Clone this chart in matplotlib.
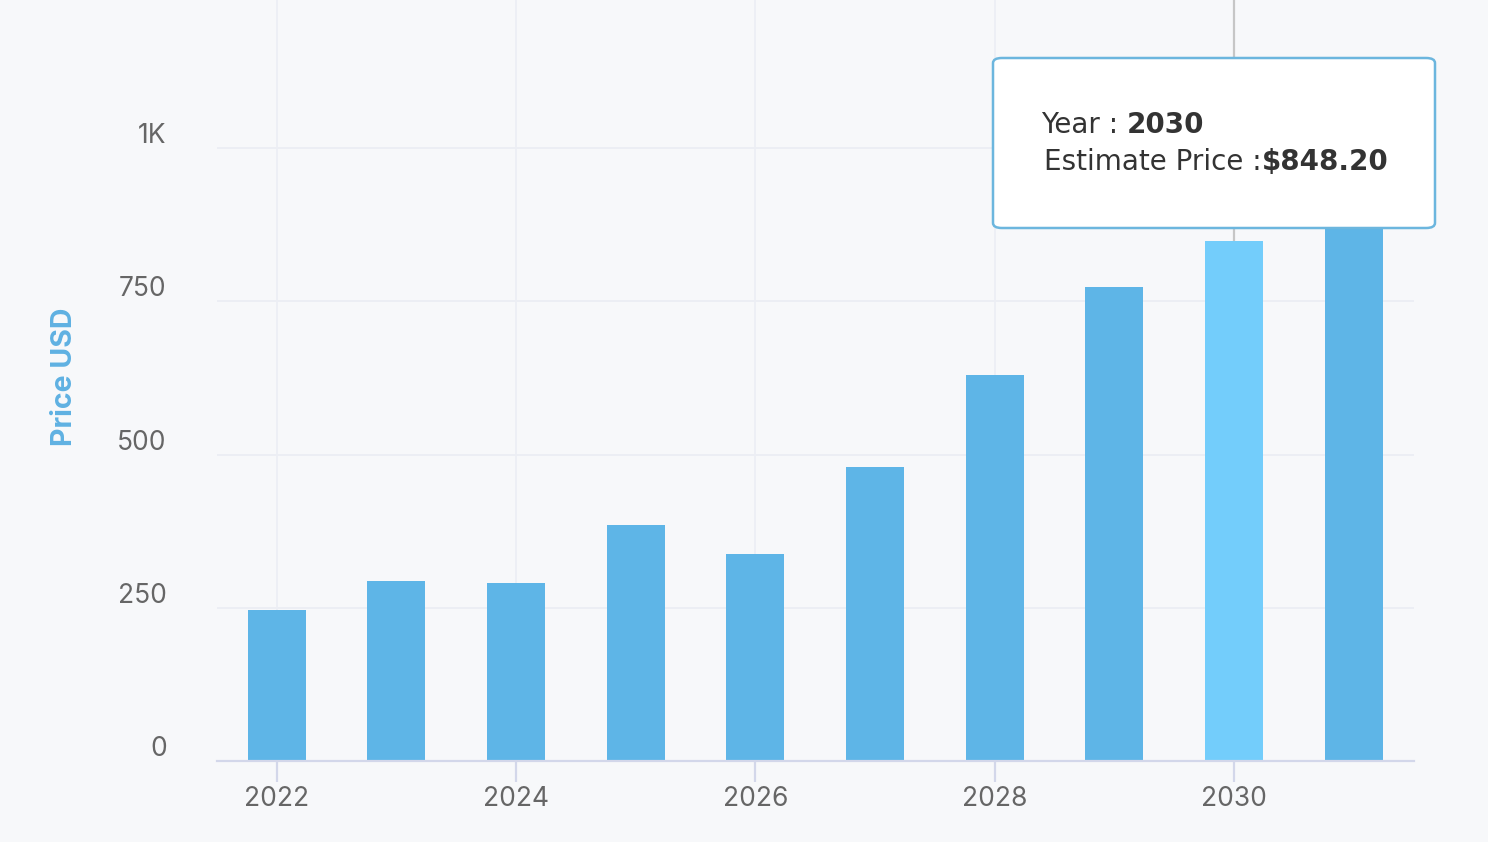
import matplotlib
matplotlib.use("Agg")
import matplotlib.pyplot as plt
from matplotlib.patches import FancyBboxPatch
from matplotlib.transforms import ScaledTranslation

years = [2022, 2023, 2024, 2025, 2026, 2027, 2028, 2029, 2030, 2031]
prices = [246.7, 294.0, 290.2, 385.0, 338.0, 480.0, 630.0, 773.0, 848.2, 940.0]
highlight_year = 2030
ytick_vals = [0, 250, 500, 750, 1000]
ytick_labels = ["0", "250", "500", "750", "1K"]
xtick_vals = [2022, 2024, 2026, 2028, 2030]
tooltip_year = "2030"
tooltip_price = "$848.20"

BG = "#f7f8fa"
BAR = "#5eb5e7"
BAR_HI = "#73cdfb"
TXT = "#666666"

W, H = 1488, 842
fig = plt.figure(figsize=(W / 100, H / 100), dpi=100)
fig.patch.set_facecolor(BG)
ax_l, ax_r, ax_b = 216.7, 1413.7, 761.3
ax = fig.add_axes([ax_l / W, 1 - ax_b / H, (ax_r - ax_l) / W, ax_b / H])
ax.set_facecolor(BG)

colors = [BAR_HI if y == highlight_year else BAR for y in years]
ax.bar(years, prices, width=0.485, color=colors, zorder=3)

ax.set_xlim(2021.5, 2031.5)
ax.set_ylim(0, 1241)

# cursor line
ax.axvline(highlight_year, color="#c6c6c6", lw=1.6, zorder=2)

for s in ["top", "right", "left"]:
    ax.spines[s].set_visible(False)
ax.spines["bottom"].set_color("#d3d7ea")
ax.spines["bottom"].set_linewidth(1.6)
ax.spines["bottom"].set_zorder(4)

ax.set_xticks(xtick_vals)
ax.set_xticklabels([str(x) for x in xtick_vals])
ax.set_yticks(ytick_vals)
ax.set_yticklabels(ytick_labels)

ax.grid(axis="y", color="#eceef4", lw=1.4, zorder=0)
ax.grid(axis="x", color="#eceef4", lw=1.2, zorder=0)

ax.tick_params(axis="x", length=15, width=1.6, color="#d3d7ea", pad=3,
               labelsize=19, labelcolor=TXT)
ax.tick_params(axis="y", length=0, pad=36, labelsize=19, labelcolor=TXT)
for lab in ax.get_xticklabels() + ax.get_yticklabels():
    lab.set_fontfamily("Inter")
off = ScaledTranslation(0, 15 / 100, fig.dpi_scale_trans)
for lab in ax.get_yticklabels():
    lab.set_transform(lab.get_transform() + off)

fig.text(64 / W, 1 - 377 / H, "Price USD", rotation=90, ha="center", va="center",
         color="#5fb1e2", fontsize=20.5, fontweight="bold", family="Inter")

# tooltip
bx0, bx1, by0, by1 = 993, 1435, 58, 228
box = FancyBboxPatch((bx0 / W, 1 - by1 / H), (bx1 - bx0) / W, (by1 - by0) / H,
                     boxstyle="round,pad=0,rounding_size=0.006",
                     transform=fig.transFigure, facecolor="white",
                     edgecolor="#6cb6de", lw=1.8, zorder=10)
fig.add_artist(box)
t1 = fig.text(1041 / W, 1 - 133 / H, "Year : ", fontsize=20, color="#333333",
              family="DejaVu Sans", va="baseline", zorder=11)
ann1 = ax.annotate(tooltip_year, xy=(1, 0), xycoords=t1, va="bottom", ha="left",
                   fontsize=20, fontweight="bold", color="#333333",
                   family="DejaVu Sans", zorder=11, annotation_clip=False)
t2 = fig.text(1044 / W, 1 - 170 / H, "Estimate Price :", fontsize=20, color="#333333",
              family="DejaVu Sans", va="baseline", zorder=11)
ann2 = ax.annotate(tooltip_price, xy=(1, 0), xycoords=t2, va="bottom", ha="left",
                   fontsize=20, fontweight="bold", color="#333333",
                   family="DejaVu Sans", zorder=11, annotation_clip=False)
for a in (ann1, ann2):
    a.remove()
    fig.add_artist(a)
    a.set_zorder(11)

fig.savefig("out.png", dpi=100, facecolor=BG)
